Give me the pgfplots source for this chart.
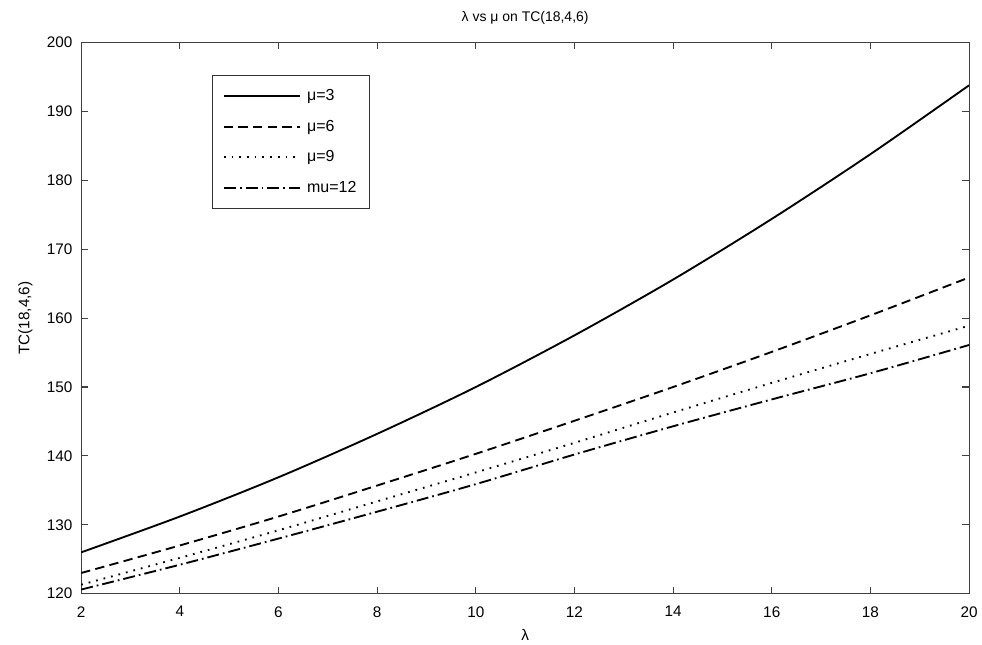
\documentclass[border=0pt]{standalone}
\usepackage{pgfplots}
\pgfplotsset{compat=1.18}
\usepackage{fontspec}
\setmainfont{Liberation Sans}
\begin{document}
\begin{tikzpicture}
\begin{axis}[
  scale only axis,
  width=667pt, height=414pt,
  xmin=2, xmax=20, ymin=120, ymax=200,
  xtick={2,4,...,20}, ytick={120,130,...,200},
  tick align=inside, tick pos=both,
  major tick length=5pt,
  axis line style={draw=black!75, line width=0.8pt},
  tick style={draw=black!75, line width=0.8pt},
  /pgf/number format/assume math mode=true,
  tick label style={font=\fontsize{11.5}{13}\selectfont},
  xticklabel style={yshift=-6pt},
  yticklabel style={xshift=-3pt},
  title={λ vs μ on TC(18,4,6)},
  title style={font=\fontsize{10.5}{12}\selectfont, yshift=4pt},
  xlabel={λ},
  ylabel={TC(18,4,6)},
  label style={font=\fontsize{11.5}{13}\selectfont},
  xlabel style={yshift=-2pt},
  ylabel style={yshift=4pt},
  legend style={at={(0.147,0.942)}, anchor=north west, draw=black!80, line width=0.8pt,
    font=\fontsize{12}{14}\selectfont, row sep=9pt, column sep=3pt, inner xsep=8pt, inner ysep=9pt},
  legend cell align=left,
  legend image code/.code={\draw[#1, line width=1.4pt] (0cm,0cm) -- (2cm,0cm);},
  every axis plot/.append style={line width=1.4pt, black},
]
\addplot[smooth] coordinates {(2,126.0)(4,131.2)(6,136.9)(8,143.2)(10,150.0)(12,157.5)(14,165.6)(16,174.4)(18,183.8)(20,193.8)};
\addlegendentry{μ=3}
\addplot[smooth, dash pattern=on 7pt off 4pt] coordinates {(2,123.0)(4,127.0)(6,131.2)(8,135.7)(10,140.3)(12,145.1)(14,150.0)(16,155.1)(18,160.4)(20,165.9)};
\addlegendentry{μ=6}
\addplot[smooth, dash pattern=on 1.3pt off 4.5pt] coordinates {(2,121.3)(4,125.2)(6,129.2)(8,133.4)(10,137.6)(12,141.9)(14,146.3)(16,150.6)(18,154.8)(20,158.9)};
\addlegendentry{μ=9}
\addplot[smooth, dash pattern=on 9pt off 3pt on 1.3pt off 3pt] coordinates {(2,120.6)(4,124.2)(6,128.0)(8,131.9)(10,135.9)(12,140.2)(14,144.3)(16,148.2)(18,152.0)(20,156.1)};
\addlegendentry{mu=12}
\end{axis}
\path ([xshift=-61pt,yshift=-38pt]current axis.south west) rectangle ([xshift=9pt,yshift=32pt]current axis.north east);
\end{tikzpicture}
\end{document}
